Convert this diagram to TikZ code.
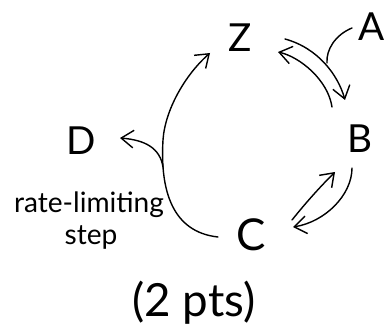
\documentclass[tikz,border=0pt]{standalone}
\usepackage{fontspec}
\setmainfont{Lato}
\usetikzlibrary{arrows.meta,calc}
\begin{document}
\begin{tikzpicture}[x=0.02cm,y=-0.02cm,
  stroke/.style={line width=0.8pt,line cap=round,black},
  arr/.style={stroke,-{Straight Barb[length=7pt,width=10pt]}},
  letter/.style={inner sep=0pt,font=\fontsize{22}{24}\selectfont},
  lbl/.style={inner sep=0pt,font=\fontsize{16}{18}\selectfont},
  pts/.style={inner sep=0pt,font=\fontsize{26}{30}\selectfont}]
\useasboundingbox (0,0) rectangle (386,331);
\node[letter] (Z) at (240,38) {Z};
\node[letter] (A) at (372,27) {A};
\node[letter] (B) at (360,139) {B};
\node[letter,font=\fontsize{25}{28}\selectfont] (C) at (251,235) {C};
\node[letter] (D) at (81,141) {D};
\node[lbl] (rl) at (89,205) {rate-limiting};
\node[lbl] (st) at (91,237) {step};
\node[pts] (p) at (194,303) {(2 pts)};
% anchor points
\coordinate (Zr1) at ($(Z)+(45,1)$);
\coordinate (Zr2) at ($(Z)+(38,14)$);
\coordinate (Zl) at ($(Z)+(-30,15)$);
\coordinate (Bt1) at ($(B)+(-15,-39)$);
\coordinate (Bt2) at ($(B)+(-28,-32)$);
\coordinate (Bb1) at ($(B)+(-8,29)$);
\coordinate (Bb2) at ($(B)+(-25,33)$);
\coordinate (Cr1) at ($(C)+(41,-15)$);
\coordinate (Cr2) at ($(C)+(42,-8)$);
\coordinate (Cl) at ($(C)+(-33,2)$);
\coordinate (Dr) at ($(D)+(39,-3)$);
\coordinate (Aw) at ($(A)+(-20,1)$);
\coordinate (mA) at (327,63);
\coordinate (mD) at (163,167);
% Z <-> B
\draw[arr] (Zr1) .. controls (318,48) and (338,75) .. (Bt1);
\draw[arr] (Bt2) .. controls (328,80) and (300,57) .. (Zr2);
\draw[stroke] (Aw) .. controls (335,35) and (326,50) .. (mA);
% B <-> C
\draw[arr] (Cr1) .. controls (308,200) and (322,185) .. (Bb2);
\draw[arr] (Bb1) .. controls (352,195) and (325,222) .. (Cr2);
% C -> Z big arc
\draw[arr] (Cl) .. controls (172,232) and (160,190) .. (163,140) .. controls (165,110) and (185,75) .. (Zl);
% branch to D
\draw[arr] (mD) .. controls (160,148) and (145,140) .. (Dr);
\end{tikzpicture}
\end{document}
